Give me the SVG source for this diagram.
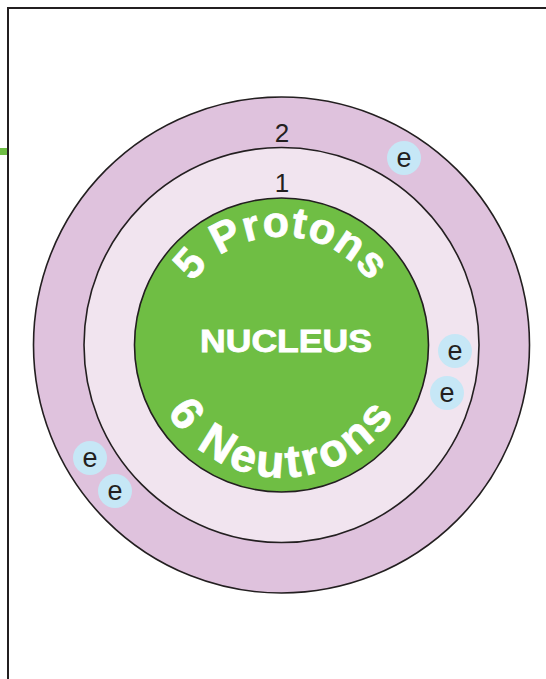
<svg xmlns="http://www.w3.org/2000/svg" width="546" height="679" viewBox="0 0 546 679">
<style>
.ring{stroke:#231f20;stroke-width:1.6}
.el circle{fill:#c6e7f6}
.el text{font-family:"Liberation Sans",Arial,sans-serif;font-size:27px;fill:#231f20;text-anchor:middle}
.lbl{font-family:"Liberation Sans",Arial,sans-serif;font-size:26px;fill:#231f20;text-anchor:middle}
.nuc{font-family:"Liberation Sans",Arial,sans-serif;font-weight:bold;fill:#fff;stroke:#fff;stroke-width:0.8}
</style>
<defs>
<path id="topArc" d="M 173 345 A 108.5 108.5 0 0 1 390 345"/>
<path id="botArc" d="M 149 345 A 132.5 132.5 0 0 0 414 345"/>
</defs>
<rect width="546" height="679" fill="#fff"/>
<g id="frame">
<path d="M 8 679 V 8 H 546" fill="none" stroke="#231f20" stroke-width="2"/>
<rect x="0" y="148" width="7" height="7" fill="#6fbe44"/>
</g>
<g id="shell2">
<circle class="ring" cx="281.5" cy="345" r="248" fill="#dfc2dd"/>
<text class="lbl" x="282" y="142">2</text>
</g>
<g id="shell1">
<circle class="ring" cx="281.5" cy="345" r="197.5" fill="#f1e4ef"/>
<text class="lbl" x="282" y="192">1</text>
</g>
<g id="nucleus">
<circle class="ring" cx="281.5" cy="345" r="147" fill="#6fbe44"/>
<text class="nuc" font-size="31" x="200" y="352" textLength="172" lengthAdjust="spacingAndGlyphs">NUCLEUS</text>
<text class="nuc" font-size="43" letter-spacing="1"><textPath href="#topArc" startOffset="50%" text-anchor="middle">5 Protons</textPath></text>
<text class="nuc" font-size="46" letter-spacing="3.5"><textPath href="#botArc" startOffset="50%" text-anchor="middle">6 Neutrons</textPath></text>
</g>
<g id="electrons" class="el">
<g id="e1"><circle cx="404" cy="158" r="17"/><text x="404" y="167">e</text></g>
<g id="e2"><circle cx="455" cy="351" r="17"/><text x="455" y="360">e</text></g>
<g id="e3"><circle cx="447" cy="393" r="17"/><text x="447" y="402">e</text></g>
<g id="e4"><circle cx="90" cy="458" r="17"/><text x="90" y="467">e</text></g>
<g id="e5"><circle cx="115" cy="491" r="17"/><text x="115" y="500">e</text></g>
</g>
</svg>
